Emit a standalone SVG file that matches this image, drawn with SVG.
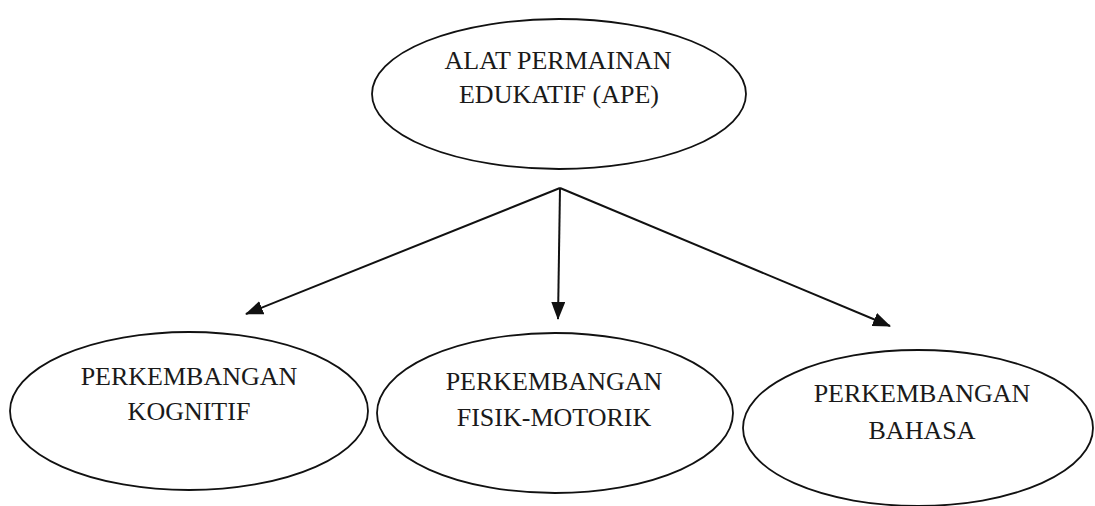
<svg xmlns="http://www.w3.org/2000/svg" width="1095" height="506" viewBox="0 0 1095 506">
<style>
.node ellipse{fill:#fff;stroke:#111;stroke-width:1.8}
.node text{font-family:"Liberation Serif","Times New Roman",serif;font-size:26px;fill:#1a1a1a;text-anchor:middle}
.conn line{stroke:#111;stroke-width:2}
</style>
<defs>
<marker id="arrow" viewBox="0 0 18 14" refX="17" refY="7" markerWidth="18" markerHeight="14" markerUnits="userSpaceOnUse" orient="auto">
<path d="M0,0 L18,7 L0,14 Z" fill="#111"/>
</marker>
</defs>
<rect width="1095" height="506" fill="#fff"/>
<g id="connectors" class="conn">
<line x1="560" y1="188" x2="246" y2="314" marker-end="url(#arrow)"/>
<line x1="560" y1="188" x2="558" y2="319" marker-end="url(#arrow)"/>
<line x1="560" y1="188" x2="890" y2="326" marker-end="url(#arrow)"/>
</g>
<g id="ape" class="node">
<ellipse cx="559" cy="94" rx="187" ry="75"/>
<text x="558" y="69">ALAT PERMAINAN</text>
<text x="559" y="103">EDUKATIF (APE)</text>
</g>
<g id="kognitif" class="node">
<ellipse cx="189" cy="411" rx="179" ry="79"/>
<text x="189" y="385">PERKEMBANGAN</text>
<text x="189" y="420">KOGNITIF</text>
</g>
<g id="fisik-motorik" class="node">
<ellipse cx="555" cy="413" rx="178" ry="80"/>
<text x="554" y="390">PERKEMBANGAN</text>
<text x="554" y="426">FISIK-MOTORIK</text>
</g>
<g id="bahasa" class="node">
<ellipse cx="918" cy="428" rx="175" ry="78"/>
<text x="922" y="402">PERKEMBANGAN</text>
<text x="922" y="439">BAHASA</text>
</g>
</svg>
